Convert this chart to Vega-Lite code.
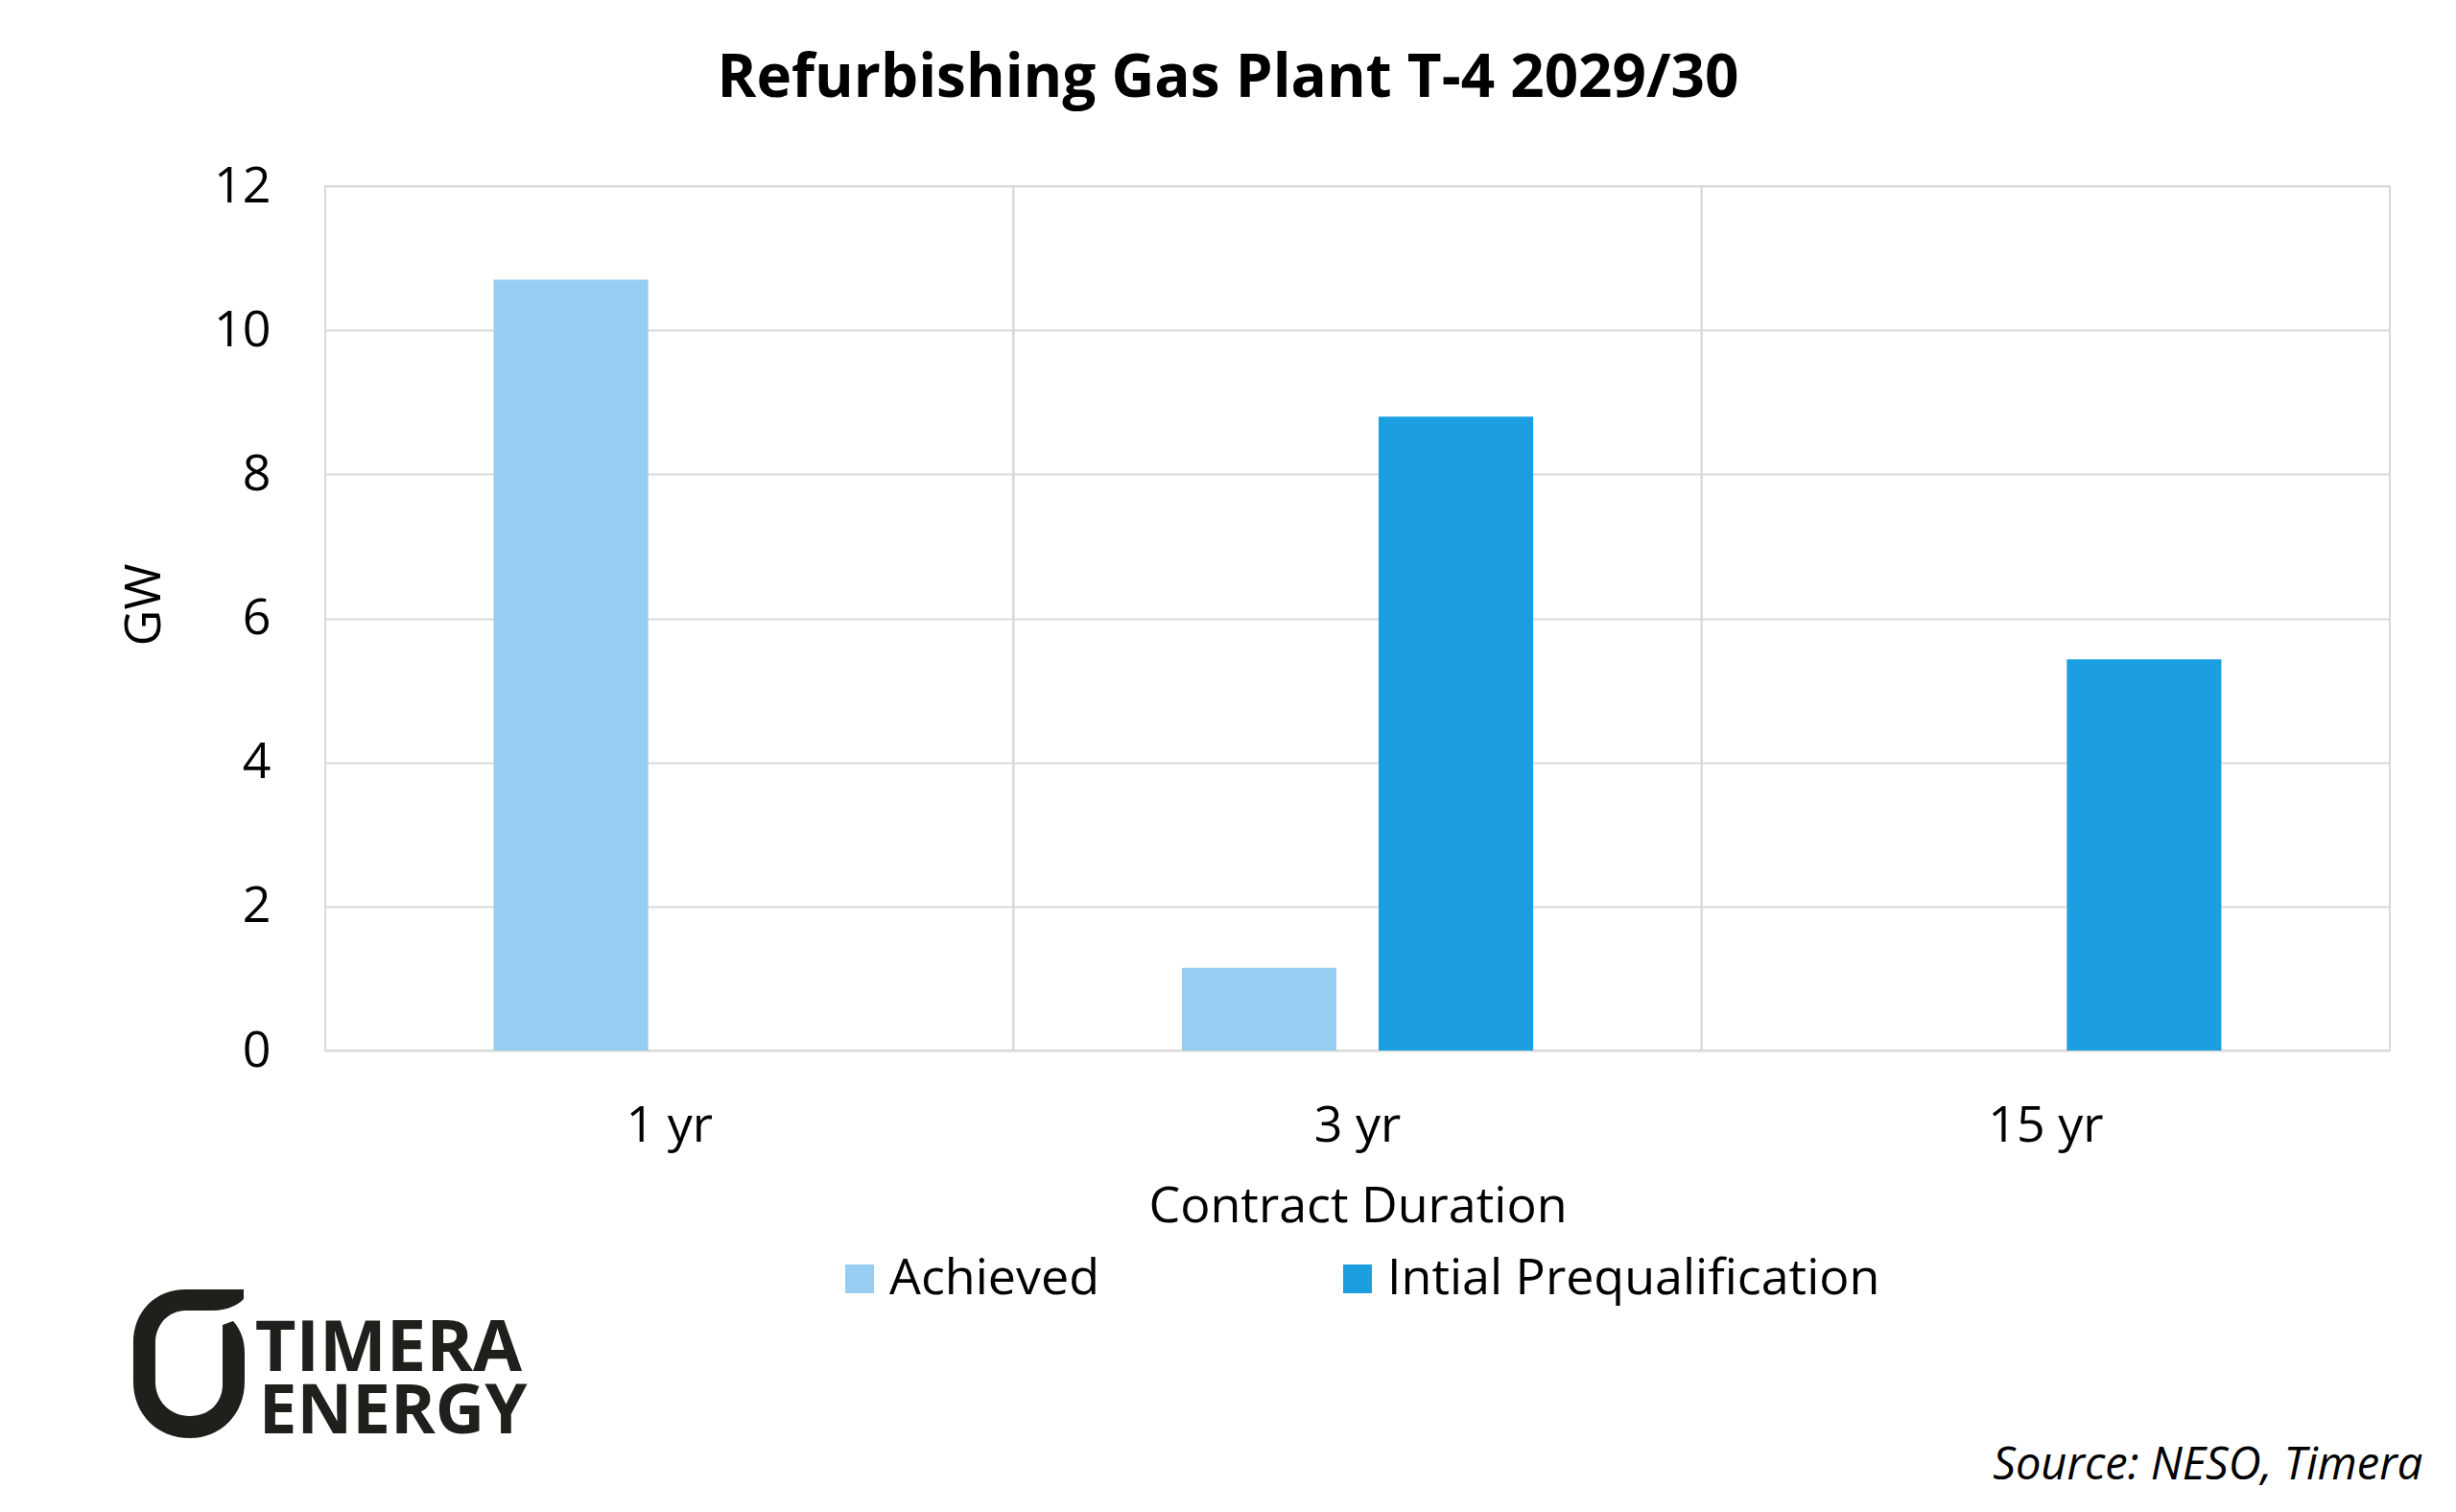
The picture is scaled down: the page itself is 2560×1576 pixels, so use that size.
{
  "$schema": "https://vega.github.io/schema/vega-lite/v6.json",
  "width": 2152,
  "height": 901,
  "autosize": {"type": "none"},
  "padding": {"left": 339, "top": 194, "right": 69, "bottom": 481},
  "background": "white",
  "title": {
    "text": "Refurbishing Gas Plant T-4 2029/30",
    "font": "Open Sans",
    "fontSize": 62,
    "fontWeight": "bold",
    "color": "#000000",
    "anchor": "middle",
    "dx": -135,
    "offset": 54
  },
  "config": {
    "font": "Open Sans",
    "view": {"stroke": "#d9d9d9", "strokeWidth": 2},
    "legend": {"padding": 0}
  },
  "datasets": {
    "gas": [
      {"duration": "1 yr", "series": "Achieved", "gw": 10.7},
      {"duration": "1 yr", "series": "Intial Prequalification", "gw": 0},
      {"duration": "3 yr", "series": "Achieved", "gw": 1.15},
      {"duration": "3 yr", "series": "Intial Prequalification", "gw": 8.8},
      {"duration": "15 yr", "series": "Achieved", "gw": 0},
      {"duration": "15 yr", "series": "Intial Prequalification", "gw": 5.43}
    ]
  },
  "layer": [
    {
      "data": {"name": "gas"},
      "mark": {"type": "rule", "color": "#d9d9d9", "strokeWidth": 2},
      "encoding": {
        "x": {"field": "duration", "type": "nominal", "bandPosition": 0, "sort": ["1 yr", "3 yr", "15 yr"], "title": "Contract Duration"}
      }
    },
    {
      "data": {"name": "gas"},
      "mark": {"type": "bar"},
      "encoding": {
        "x": {
          "field": "duration",
          "type": "nominal",
          "sort": ["1 yr", "3 yr", "15 yr"],
          "scale": {"domain": ["1 yr", "3 yr", "15 yr"], "paddingInner": 0, "paddingOuter": 0},
          "title": "Contract Duration",
          "axis": {
            "labelAngle": 0,
            "labelAlign": "center",
            "labelFontSize": 52,
            "labelColor": "#000000",
            "labelPadding": 78,
            "ticks": false,
            "domain": false,
            "grid": false,
            "titleFontSize": 52,
            "titleFontWeight": "normal",
            "titleColor": "#000000",
            "titlePadding": 33
          }
        },
        "xOffset": {
          "field": "series",
          "type": "nominal",
          "sort": ["Achieved", "Intial Prequalification"],
          "scale": {"paddingInner": 0.2146, "paddingOuter": 0.856}
        },
        "y": {
          "field": "gw",
          "type": "quantitative",
          "scale": {"domain": [0, 12], "nice": false},
          "title": "GW",
          "axis": {
            "values": [0, 2, 4, 6, 8, 10, 12],
            "format": "d",
            "labelFontSize": 52,
            "labelColor": "#000000",
            "labelPadding": 57,
            "ticks": false,
            "domain": false,
            "grid": true,
            "gridColor": "#d9d9d9",
            "gridWidth": 2,
            "titleFontSize": 52,
            "titleFontWeight": "normal",
            "titleColor": "#000000",
            "titlePadding": 45,
            "titleY": 436
          }
        },
        "color": {
          "field": "series",
          "type": "nominal",
          "scale": {"domain": ["Achieved", "Intial Prequalification"], "range": ["#97cdf0", "#1c9fe0"]},
          "legend": {
            "title": null,
            "orient": "none",
            "direction": "horizontal",
            "legendX": 531,
            "legendY": 1113,
            "symbolType": "square",
            "symbolSize": 900,
            "symbolStrokeWidth": 0,
            "labelFontSize": 52,
            "labelColor": "#000000",
            "labelOffset": 5,
            "labelLimit": 1000,
            "columnPadding": 243
          }
        }
      }
    },
    {
      "data": {"values": [{"note": "Source: NESO, Timera"}]},
      "mark": {"type": "text", "align": "right", "baseline": "alphabetic", "fontSize": 47, "fontStyle": "italic", "color": "#000000", "dx": 393, "dy": 447},
      "encoding": {
        "x": {"datum": "15 yr", "type": "nominal"},
        "y": {"datum": 0, "type": "quantitative"},
        "text": {"field": "note"}
      }
    },
    {
      "data": {"values": [{"brand": "Timera Energy logo"}]},
      "mark": {
        "type": "point",
        "shape": "M0.731,-0.994 L-0.038,-0.994 C-0.45,-0.994 -0.744,-0.7 -0.744,-0.276 L-0.744,0.237 C-0.744,0.68 -0.42,0.994 0.013,0.994 C0.42,0.994 0.744,0.68 0.744,0.237 L0.744,-0.147 C0.744,-0.3 0.7,-0.45 0.59,-0.57 L0.449,-0.519 L0.449,0.276 C0.449,0.52 0.27,0.699 0.013,0.699 C-0.25,0.699 -0.449,0.5 -0.449,0.237 L-0.449,-0.276 C-0.449,-0.52 -0.28,-0.712 -0.038,-0.712 L0.321,-0.712 C0.5,-0.712 0.65,-0.78 0.731,-0.865 Z",
        "size": 24336,
        "filled": true,
        "color": "#1f1f1c",
        "opacity": 1,
        "strokeWidth": 0,
        "xOffset": -500.7,
        "yOffset": 326.5
      },
      "encoding": {
        "x": {"datum": "1 yr", "type": "nominal"},
        "y": {"datum": 0, "type": "quantitative"}
      }
    },
    {
      "data": {"values": [{"word": "TIMERA"}]},
      "mark": {"type": "text", "align": "left", "baseline": "alphabetic", "fontSize": 74, "fontWeight": "bold", "color": "#1f1f1c", "dx": -432, "dy": 334},
      "encoding": {
        "x": {"datum": "1 yr", "type": "nominal"},
        "y": {"datum": 0, "type": "quantitative"},
        "text": {"field": "word"}
      }
    },
    {
      "data": {"values": [{"word": "ENERGY"}]},
      "mark": {"type": "text", "align": "left", "baseline": "alphabetic", "fontSize": 71, "fontWeight": "bold", "color": "#1f1f1c", "dx": -428, "dy": 399},
      "encoding": {
        "x": {"datum": "1 yr", "type": "nominal"},
        "y": {"datum": 0, "type": "quantitative"},
        "text": {"field": "word"}
      }
    }
  ]
}
